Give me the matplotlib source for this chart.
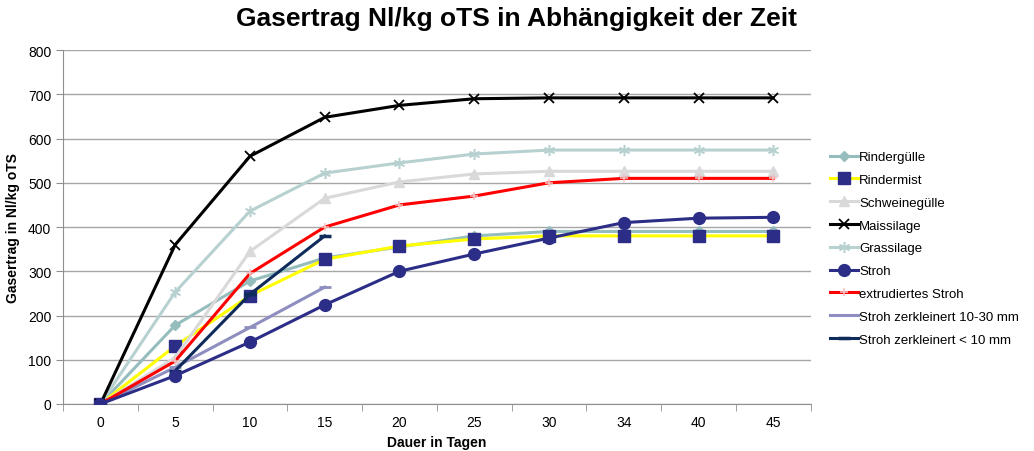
import numpy as np
import matplotlib.pyplot as plt

# category axis (days)
days = ['0', '5', '10', '15', '20', '25', '30', '34', '40', '45']

rindergulle = [0, 178, 278, 330, 355, 380, 390, 390, 390, 390]
rindermist = [0, 131, 245, 327, 357, 373, 380, 380, 380, 380]
schweinegulle = [0, 105, 345, 465, 502, 520, 526, 526, 526, 526]
maissilage = [0, 360, 560, 648, 675, 690, 692, 692, 692, 692]
grassilage = [0, 253, 436, 522, 545, 565, 574, 574, 574, 574]
stroh = [0, 64, 140, 224, 300, 339, 375, 410, 420, 422]
stroh_extr = [0, 97, 295, 400, 450, 470, 500, 510, 510, 510]
stroh_10_30 = [0, 83, 173, 264]
stroh_lt10 = [np.nan, 75, 248, 380]

plt.rcParams['font.family'] = ['Liberation Sans', 'DejaVu Sans']

fig = plt.figure(figsize=(10.34, 4.52), dpi=100)
ax = fig.add_axes([0.061, 0.104, 0.723, 0.783])

x = np.arange(len(days))
navy = '#2B2D87'

ax.plot(x, rindergulle, color='#96BDBD', lw=2.2, marker='D', ms=5,
        mfc='#96BDBD', mec='#96BDBD', label='Rindergülle', zorder=3)
ax.plot(x, rindermist, color='#FFFF00', lw=2.2, marker='s', ms=8.5,
        mfc=navy, mec=navy, label='Rindermist', zorder=3)
ax.plot(x, schweinegulle, color='#D9D9D9', lw=2.2, marker='^', ms=7,
        mfc='#D9D9D9', mec='#D9D9D9', label='Schweinegülle', zorder=3)
ax.plot(x, maissilage, color='black', lw=2.2, marker='x', ms=7, mew=1.3,
        label='Maissilage', zorder=4)
ax.plot(x, grassilage, color='#B7D0D0', lw=2.2, marker=(6, 2, 0), ms=8, mew=1.1,
        mec='#B7D0D0', label='Grassilage', zorder=3)
ax.plot(x, stroh, color=navy, lw=2.2, marker='o', ms=8.5,
        mfc=navy, mec=navy, label='Stroh', zorder=5)
ax.plot(x, stroh_extr, color='#FF0000', lw=2.2, marker='+', ms=6, mew=1.1,
        mec='#F2C0C0', label='extrudiertes Stroh', zorder=4)
ax.plot(x[:4], stroh_10_30, color='#8E8EC0', lw=2.2, marker='_', ms=8, mew=2,
        label='Stroh zerkleinert 10-30 mm', zorder=3)
ax.plot(x[:4], stroh_lt10, color='#0F2B5C', lw=2.2, marker='_', ms=9, mew=2.5,
        label='Stroh zerkleinert < 10 mm', zorder=4)

ax.set_xlim(-0.5, len(days) - 0.5)
ax.set_ylim(0, 800)
ax.set_yticks(range(0, 801, 100))
ax.set_xticks(x)
ax.set_xticklabels(days)
ax.set_xticks(np.arange(-0.5, len(days)), minor=True)
ax.tick_params(axis='x', which='major', length=0, labelsize=10, pad=8)
ax.tick_params(axis='x', which='minor', length=5, color='#909090')
ax.tick_params(axis='y', length=5, color='#909090', labelsize=10)

ax.grid(axis='y', color='#A6A6A6', lw=1)
ax.set_axisbelow(True)
for side in ['top', 'right']:
    ax.spines[side].set_visible(False)
for side in ['left', 'bottom']:
    ax.spines[side].set_color('#909090')

ax.set_xlabel('Dauer in Tagen', fontsize=10, fontweight='bold', labelpad=4)
ax.set_ylabel('Gasertrag in Nl/kg oTS', fontsize=10, fontweight='bold', labelpad=6)
fig.suptitle('Gasertrag Nl/kg oTS in Abhängigkeit der Zeit', fontsize=19,
             fontweight='bold', x=0.5, y=0.985)

ax.legend(loc='center left', bbox_to_anchor=(1.01, 0.44), frameon=False,
          fontsize=9.5, handlelength=2.1, handletextpad=0.1, labelspacing=0.8)

fig.savefig('out.png', dpi=100)
